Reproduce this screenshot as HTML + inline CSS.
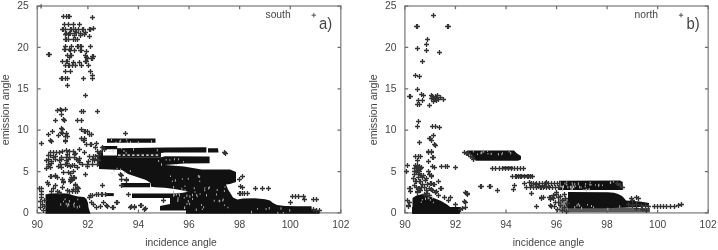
<!DOCTYPE html>
<html><head><meta charset="utf-8"><style>
html,body{margin:0;padding:0;background:#fff;}
svg{display:block;filter:grayscale(1);}
text{font-family:"Liberation Sans",sans-serif;font-size:10.3px;fill:#444;}
</style></head><body>
<svg width="718" height="250" viewBox="0 0 718 250">
<g>
<rect width="718" height="250" fill="#fff"/>
<rect x="37.30" y="6.00" width="303.50" height="206.90" fill="none" stroke="#939393" stroke-width="1.5"/>
<path d="M37.30 212.90v-3.3M37.30 6.00v3.3M87.88 212.90v-3.3M87.88 6.00v3.3M138.47 212.90v-3.3M138.47 6.00v3.3M189.05 212.90v-3.3M189.05 6.00v3.3M239.63 212.90v-3.3M239.63 6.00v3.3M290.22 212.90v-3.3M290.22 6.00v3.3M340.80 212.90v-3.3M340.80 6.00v3.3M37.30 212.90h3.3M340.80 212.90h-3.3M37.30 171.52h3.3M340.80 171.52h-3.3M37.30 130.14h3.3M340.80 130.14h-3.3M37.30 88.76h3.3M340.80 88.76h-3.3M37.30 47.38h3.3M340.80 47.38h-3.3M37.30 6.00h3.3M340.80 6.00h-3.3" stroke="#6e6e6e" stroke-width="1.25" fill="none"/>
<text x="37.30" y="228.3" text-anchor="middle">90</text>
<text x="87.88" y="228.3" text-anchor="middle">92</text>
<text x="138.47" y="228.3" text-anchor="middle">94</text>
<text x="189.05" y="228.3" text-anchor="middle">96</text>
<text x="239.63" y="228.3" text-anchor="middle">98</text>
<text x="290.22" y="228.3" text-anchor="middle">100</text>
<text x="340.80" y="228.3" text-anchor="middle">102</text>
<text x="28.80" y="216.10" text-anchor="end">0</text>
<text x="28.80" y="174.72" text-anchor="end">5</text>
<text x="28.80" y="133.34" text-anchor="end">10</text>
<text x="28.80" y="91.96" text-anchor="end">15</text>
<text x="28.80" y="50.58" text-anchor="end">20</text>
<text x="28.80" y="9.20" text-anchor="end">25</text>
<text x="181.00" y="245.6" text-anchor="middle">incidence angle</text>
<polygon points="117.0,153.0 161.0,153.0 161.0,157.3 117.0,157.3" fill="#1a1a1a"/>
<polygon points="107.0,138.6 155.5,138.6 155.5,142.8 107.0,142.8" fill="#111"/>
<polygon points="101.5,146.0 117.2,146.0 117.2,148.3 165.0,147.5 206.4,147.3 206.4,152.5 165.0,152.5 161.0,153.0 117.0,153.3 117.0,149.2 103.0,149.2 103.0,152.0 101.5,152.0" fill="#111"/>
<polygon points="98.0,152.0 103.0,151.0 103.0,166.0 98.0,166.0" fill="#111"/>
<polygon points="99.0,155.6 117.0,155.6 117.0,157.2 161.0,157.2 165.0,156.3 209.6,156.6 209.6,163.2 184.0,163.6 165.0,165.0 184.0,166.5 201.6,169.6 230.0,169.6 236.0,172.0 236.0,182.0 230.0,184.0 226.0,184.5 228.0,189.5 230.0,192.5 233.0,197.4 237.4,199.6 243.0,198.6 255.0,198.3 265.0,199.2 270.0,200.6 273.0,203.0 277.0,205.0 285.0,206.0 297.0,206.3 311.6,206.3 311.6,209.5 319.5,210.0 319.5,213.8 186.0,213.8 186.0,210.4 160.0,210.4 160.0,206.0 170.0,204.0 170.0,198.0 132.0,198.0 132.0,193.6 176.0,193.4 183.0,192.8 188.0,191.8 183.0,190.4 176.0,189.2 165.0,187.8 155.0,187.3 151.0,186.8 150.5,183.0 146.0,180.0 128.0,174.0 122.0,170.0 110.0,169.5 99.0,169.0" fill="#111"/>
<polygon points="121.0,183.0 150.0,183.0 150.0,187.3 121.0,187.3" fill="#111"/>
<polygon points="208.0,148.2 218.0,148.2 218.5,152.6 208.0,152.6" fill="#111"/>
<polygon points="105.8,193.1 113.8,193.1 113.8,196.1 105.8,196.1" fill="#111"/>
<polygon points="45.5,194.5 50.0,193.5 60.0,193.3 68.0,193.6 72.0,195.0 78.0,196.5 84.0,197.0 86.5,199.0 88.0,203.0 88.6,208.0 90.5,213.8 45.5,213.8" fill="#111"/>
<path d="M119.2 140.4h0.9v2.0h-0.9zM151.0 140.2h0.9v2.5h-0.9zM111.1 139.0h0.9v2.0h-0.9zM120.2 139.6h0.9v2.5h-0.9zM130.1 141.1h0.9v2.0h-0.9zM126.7 141.2h0.9v1.5h-0.9zM137.8 141.2h0.9v2.5h-0.9zM126.3 139.0h0.9v1.5h-0.9zM115.5 141.4h0.9v1.5h-0.9zM64.6 198.2h0.9v2.0h-0.9zM68.4 203.8h0.9v2.0h-0.9zM73.7 205.4h0.9v2.0h-0.9zM74.0 202.6h0.9v1.5h-0.9zM77.3 198.8h0.9v1.5h-0.9zM68.9 200.1h0.9v2.5h-0.9zM67.6 203.0h0.9v2.0h-0.9zM67.3 204.7h0.9v2.5h-0.9zM65.7 202.7h0.9v2.5h-0.9zM63.1 200.7h0.9v1.5h-0.9zM76.8 205.9h0.9v2.5h-0.9zM73.3 203.6h0.9v2.0h-0.9zM79.2 205.2h0.9v2.5h-0.9zM60.3 203.2h0.9v2.5h-0.9zM216.1 193.6h0.9v2.0h-0.9zM178.6 192.2h0.9v2.5h-0.9zM224.5 186.3h0.9v1.5h-0.9zM193.8 187.3h0.9v2.0h-0.9zM194.6 191.2h0.9v1.5h-0.9zM174.3 194.2h0.9v1.5h-0.9zM192.0 193.8h0.9v2.5h-0.9zM218.7 199.7h0.9v2.5h-0.9zM184.5 185.5h0.9v1.5h-0.9zM176.1 194.0h0.9v1.5h-0.9zM222.3 199.6h0.9v2.0h-0.9zM204.4 187.3h0.9v1.5h-0.9zM223.9 190.1h0.9v2.0h-0.9zM222.8 198.4h0.9v2.0h-0.9zM192.0 198.0h0.9v2.0h-0.9zM206.1 193.9h0.9v2.5h-0.9zM177.4 199.6h0.9v2.5h-0.9zM186.4 194.5h0.9v2.5h-0.9zM184.6 189.5h0.9v2.0h-0.9zM199.6 193.2h0.9v1.5h-0.9zM213.8 199.8h0.9v2.0h-0.9zM173.1 194.2h0.9v2.5h-0.9zM179.1 194.5h0.9v2.0h-0.9zM196.7 195.2h0.9v2.0h-0.9zM204.3 189.2h0.9v2.0h-0.9zM173.2 185.9h0.9v2.5h-0.9zM173.1 190.5h0.9v2.5h-0.9zM196.2 193.9h0.9v2.0h-0.9zM181.4 187.8h0.9v2.0h-0.9zM216.7 189.0h0.9v2.0h-0.9zM177.6 197.2h0.9v2.5h-0.9zM208.2 187.0h0.9v2.5h-0.9zM183.8 197.1h0.9v1.5h-0.9zM189.4 195.2h0.9v2.5h-0.9zM209.0 186.5h0.9v2.0h-0.9zM227.5 206.7h0.9v1.5h-0.9zM201.9 208.6h0.9v1.5h-0.9zM184.0 207.4h0.9v1.5h-0.9zM224.2 204.5h0.9v1.5h-0.9zM219.4 200.3h0.9v1.5h-0.9zM195.8 208.4h0.9v2.5h-0.9zM189.2 202.8h0.9v2.5h-0.9zM184.3 206.2h0.9v2.5h-0.9zM186.5 202.9h0.9v2.0h-0.9zM203.2 206.3h0.9v2.0h-0.9zM201.0 204.1h0.9v2.0h-0.9zM187.8 200.0h0.9v2.5h-0.9zM289.3 209.2h0.9v2.5h-0.9zM251.1 210.7h0.9v2.5h-0.9zM277.4 211.8h0.9v2.5h-0.9zM257.1 208.1h0.9v1.5h-0.9zM282.9 211.9h0.9v1.5h-0.9zM280.5 207.2h0.9v2.5h-0.9zM265.6 208.0h0.9v2.0h-0.9zM268.8 207.1h0.9v2.5h-0.9zM113.6 170.0h0.9v1.5h-0.9zM129.9 170.1h0.9v2.0h-0.9zM111.6 172.5h0.9v1.5h-0.9zM120.2 168.5h0.9v2.5h-0.9zM124.3 171.7h0.9v2.0h-0.9zM116.6 167.7h0.9v1.5h-0.9zM171.9 180.5h0.9v1.5h-0.9zM197.9 175.1h0.9v2.5h-0.9zM187.8 177.8h0.9v2.0h-0.9zM174.9 179.3h0.9v2.5h-0.9zM181.9 178.3h0.9v1.5h-0.9zM199.3 180.4h0.9v1.5h-0.9zM170.0 175.5h0.9v1.5h-0.9zM199.2 175.6h0.9v2.5h-0.9zM169.4 159.3h0.9v1.5h-0.9zM161.1 163.2h0.9v2.5h-0.9zM158.2 160.1h0.9v2.0h-0.9zM165.7 159.0h0.9v1.5h-0.9zM183.0 161.0h0.9v1.5h-0.9zM174.0 158.3h0.9v2.0h-0.9zM176.3 164.3h0.9v2.0h-0.9zM178.2 158.3h0.9v2.0h-0.9zM112.7 150.1h0.9v2.5h-0.9zM125.7 151.8h0.9v2.0h-0.9zM133.0 148.2h0.9v2.5h-0.9zM123.5 149.9h0.9v2.0h-0.9zM121.2 147.7h0.9v1.5h-0.9zM156.8 148.9h0.9v2.5h-0.9z" fill="#bbb" stroke="none"/>
<path d="M118 155.2H160" stroke="#fff" stroke-width="1.2" stroke-dasharray="2.5 2.2"/>
<path d="M104 151.5H116" stroke="#eee" stroke-width="1.0" stroke-dasharray="3 1.5"/>
<path d="M61.0 16.5h5.0M63.5 14.0v5.0M64.0 16.5h5.0M66.5 14.0v5.0M66.0 16.5h5.0M68.5 14.0v5.0M67.0 16.5h5.0M69.5 14.0v5.0M90.0 17.5h5.0M92.5 15.0v5.0M62.0 24.5h5.0M64.5 22.0v5.0M66.0 24.5h5.0M68.5 22.0v5.0M71.0 24.5h5.0M73.5 22.0v5.0M77.0 24.5h5.0M79.5 22.0v5.0M60.0 29.5h5.0M62.5 27.0v5.0M61.0 29.5h5.0M63.5 27.0v5.0M63.0 29.5h5.0M65.5 27.0v5.0M68.0 29.5h5.0M70.5 27.0v5.0M69.0 29.5h5.0M71.5 27.0v5.0M71.0 29.5h5.0M73.5 27.0v5.0M73.0 29.5h5.0M75.5 27.0v5.0M76.0 29.5h5.0M78.5 27.0v5.0M80.0 29.5h5.0M82.5 27.0v5.0M81.0 29.5h5.0M83.5 27.0v5.0M87.0 29.5h5.0M89.5 27.0v5.0M88.0 29.5h5.0M90.5 27.0v5.0M91.0 28.5h5.0M93.5 26.0v5.0M64.0 33.5h5.0M66.5 31.0v5.0M67.0 33.5h5.0M69.5 31.0v5.0M68.0 33.5h5.0M70.5 31.0v5.0M72.0 33.5h5.0M74.5 31.0v5.0M74.0 32.5h5.0M76.5 30.0v5.0M78.0 33.5h5.0M80.5 31.0v5.0M83.0 32.5h5.0M85.5 30.0v5.0M87.0 36.5h5.0M89.5 34.0v5.0M63.0 34.5h5.0M65.5 32.0v5.0M66.0 34.5h5.0M68.5 32.0v5.0M72.0 35.5h5.0M74.5 33.0v5.0M78.0 35.5h5.0M80.5 33.0v5.0M82.0 34.5h5.0M84.5 32.0v5.0M63.0 39.5h5.0M65.5 37.0v5.0M64.0 39.5h5.0M66.5 37.0v5.0M66.0 39.5h5.0M68.5 37.0v5.0M71.0 39.5h5.0M73.5 37.0v5.0M73.0 39.5h5.0M75.5 37.0v5.0M75.0 39.5h5.0M77.5 37.0v5.0M63.0 46.5h5.0M65.5 44.0v5.0M69.0 46.5h5.0M71.5 44.0v5.0M75.0 46.5h5.0M77.5 44.0v5.0M76.0 46.5h5.0M78.5 44.0v5.0M78.0 46.5h5.0M80.5 44.0v5.0M79.0 46.5h5.0M81.5 44.0v5.0M88.0 46.5h5.0M90.5 44.0v5.0M63.0 49.5h5.0M65.5 47.0v5.0M62.0 49.5h5.0M64.5 47.0v5.0M67.0 49.5h5.0M69.5 47.0v5.0M68.0 50.5h5.0M70.5 48.0v5.0M72.0 50.5h5.0M74.5 48.0v5.0M79.0 50.5h5.0M81.5 48.0v5.0M78.0 50.5h5.0M80.5 48.0v5.0M84.0 51.5h5.0M86.5 49.0v5.0M84.0 51.5h5.0M86.5 49.0v5.0M46.0 54.5h5.0M48.5 52.0v5.0M47.0 54.5h5.0M49.5 52.0v5.0M65.0 55.5h5.0M67.5 53.0v5.0M65.0 55.5h5.0M67.5 53.0v5.0M68.0 55.5h5.0M70.5 53.0v5.0M69.0 55.5h5.0M71.5 53.0v5.0M83.0 55.5h5.0M85.5 53.0v5.0M83.0 55.5h5.0M85.5 53.0v5.0M90.0 56.5h5.0M92.5 54.0v5.0M91.0 56.5h5.0M93.5 54.0v5.0M67.0 57.5h5.0M69.5 55.0v5.0M84.0 57.5h5.0M86.5 55.0v5.0M85.0 58.5h5.0M87.5 56.0v5.0M89.0 58.5h5.0M91.5 56.0v5.0M90.0 58.5h5.0M92.5 56.0v5.0M60.0 61.5h5.0M62.5 59.0v5.0M60.0 61.5h5.0M62.5 59.0v5.0M64.0 61.5h5.0M66.5 59.0v5.0M65.0 61.5h5.0M67.5 59.0v5.0M83.0 61.5h5.0M85.5 59.0v5.0M83.0 61.5h5.0M85.5 59.0v5.0M84.0 61.5h5.0M86.5 59.0v5.0M71.0 62.5h5.0M73.5 60.0v5.0M77.0 62.5h5.0M79.5 60.0v5.0M63.0 65.5h5.0M65.5 63.0v5.0M63.0 65.5h5.0M65.5 63.0v5.0M66.0 65.5h5.0M68.5 63.0v5.0M67.0 65.5h5.0M69.5 63.0v5.0M70.0 65.5h5.0M72.5 63.0v5.0M73.0 65.5h5.0M75.5 63.0v5.0M79.0 65.5h5.0M81.5 63.0v5.0M86.0 65.5h5.0M88.5 63.0v5.0M63.0 71.5h5.0M65.5 69.0v5.0M68.0 71.5h5.0M70.5 69.0v5.0M88.0 71.5h5.0M90.5 69.0v5.0M90.0 75.5h5.0M92.5 73.0v5.0M59.0 78.5h5.0M61.5 76.0v5.0M60.0 78.5h5.0M62.5 76.0v5.0M63.0 78.5h5.0M65.5 76.0v5.0M65.0 78.5h5.0M67.5 76.0v5.0M81.0 78.5h5.0M83.5 76.0v5.0M90.0 78.5h5.0M92.5 76.0v5.0M65.0 85.5h5.0M67.5 83.0v5.0M83.0 95.5h5.0M85.5 93.0v5.0M55.0 110.5h5.0M57.5 108.0v5.0M58.0 109.5h5.0M60.5 107.0v5.0M59.0 110.5h5.0M61.5 108.0v5.0M63.0 109.5h5.0M65.5 107.0v5.0M79.0 111.5h5.0M81.5 109.0v5.0M81.0 111.5h5.0M83.5 109.0v5.0M95.0 111.5h5.0M97.5 109.0v5.0M59.0 114.5h5.0M61.5 112.0v5.0M53.0 120.5h5.0M55.5 118.0v5.0M61.0 119.5h5.0M63.5 117.0v5.0M62.0 120.5h5.0M64.5 118.0v5.0M75.0 120.5h5.0M77.5 118.0v5.0M79.0 120.5h5.0M81.5 118.0v5.0M59.0 128.5h5.0M61.5 126.0v5.0M60.0 129.5h5.0M62.5 127.0v5.0M79.0 129.5h5.0M81.5 127.0v5.0M82.0 131.5h5.0M84.5 129.0v5.0M83.0 131.5h5.0M85.5 129.0v5.0M85.0 131.5h5.0M87.5 129.0v5.0M50.0 131.5h5.0M52.5 129.0v5.0M46.0 134.5h5.0M48.5 132.0v5.0M56.0 135.5h5.0M58.5 133.0v5.0M59.0 132.5h5.0M61.5 130.0v5.0M60.0 133.5h5.0M62.5 131.0v5.0M64.0 133.5h5.0M66.5 131.0v5.0M63.0 136.5h5.0M65.5 134.0v5.0M63.0 136.5h5.0M65.5 134.0v5.0M65.0 136.5h5.0M67.5 134.0v5.0M87.0 134.5h5.0M89.5 132.0v5.0M89.0 134.5h5.0M91.5 132.0v5.0M123.0 133.5h5.0M125.5 131.0v5.0M48.0 140.5h5.0M50.5 138.0v5.0M63.0 140.5h5.0M65.5 138.0v5.0M79.0 138.5h5.0M81.5 136.0v5.0M82.0 138.5h5.0M84.5 136.0v5.0M39.0 143.5h5.0M41.5 141.0v5.0M49.0 141.5h5.0M51.5 139.0v5.0M63.0 141.5h5.0M65.5 139.0v5.0M48.0 152.5h5.0M50.5 150.0v5.0M51.0 152.5h5.0M53.5 150.0v5.0M54.0 152.5h5.0M56.5 150.0v5.0M57.0 152.5h5.0M59.5 150.0v5.0M60.0 151.5h5.0M62.5 149.0v5.0M64.0 150.5h5.0M66.5 148.0v5.0M64.0 150.5h5.0M66.5 148.0v5.0M67.0 151.5h5.0M69.5 149.0v5.0M65.0 154.5h5.0M67.5 152.0v5.0M65.0 154.5h5.0M67.5 152.0v5.0M46.0 155.5h5.0M48.5 153.0v5.0M48.0 155.5h5.0M50.5 153.0v5.0M51.0 157.5h5.0M53.5 155.0v5.0M53.0 156.5h5.0M55.5 154.0v5.0M59.0 157.5h5.0M61.5 155.0v5.0M64.0 157.5h5.0M66.5 155.0v5.0M67.0 157.5h5.0M69.5 155.0v5.0M44.0 160.5h5.0M46.5 158.0v5.0M46.0 159.5h5.0M48.5 157.0v5.0M49.0 161.5h5.0M51.5 159.0v5.0M53.0 159.5h5.0M55.5 157.0v5.0M57.0 160.5h5.0M59.5 158.0v5.0M59.0 159.5h5.0M61.5 157.0v5.0M64.0 160.5h5.0M66.5 158.0v5.0M64.0 160.5h5.0M66.5 158.0v5.0M66.0 159.5h5.0M68.5 157.0v5.0M46.0 164.5h5.0M48.5 162.0v5.0M49.0 163.5h5.0M51.5 161.0v5.0M58.0 164.5h5.0M60.5 162.0v5.0M63.0 164.5h5.0M65.5 162.0v5.0M65.0 163.5h5.0M67.5 161.0v5.0M81.0 140.5h5.0M83.5 138.0v5.0M82.0 140.5h5.0M84.5 138.0v5.0M84.0 144.5h5.0M86.5 142.0v5.0M88.0 144.5h5.0M90.5 142.0v5.0M89.0 144.5h5.0M91.5 142.0v5.0M94.0 143.5h5.0M96.5 141.0v5.0M77.0 149.5h5.0M79.5 147.0v5.0M77.0 149.5h5.0M79.5 147.0v5.0M93.0 147.5h5.0M95.5 145.0v5.0M100.0 147.5h5.0M102.5 145.0v5.0M102.0 149.5h5.0M104.5 147.0v5.0M71.0 151.5h5.0M73.5 149.0v5.0M73.0 153.5h5.0M75.5 151.0v5.0M72.0 154.5h5.0M74.5 152.0v5.0M82.0 152.5h5.0M84.5 150.0v5.0M95.0 151.5h5.0M97.5 149.0v5.0M98.0 152.5h5.0M100.5 150.0v5.0M72.0 157.5h5.0M74.5 155.0v5.0M74.0 159.5h5.0M76.5 157.0v5.0M76.0 160.5h5.0M78.5 158.0v5.0M77.0 158.5h5.0M79.5 156.0v5.0M77.0 162.5h5.0M79.5 160.0v5.0M74.0 159.5h5.0M76.5 157.0v5.0M87.0 156.5h5.0M89.5 154.0v5.0M91.0 156.5h5.0M93.5 154.0v5.0M93.0 156.5h5.0M95.5 154.0v5.0M93.0 156.5h5.0M95.5 154.0v5.0M96.0 155.5h5.0M98.5 153.0v5.0M96.0 155.5h5.0M98.5 153.0v5.0M86.0 161.5h5.0M88.5 159.0v5.0M90.0 159.5h5.0M92.5 157.0v5.0M92.0 160.5h5.0M94.5 158.0v5.0M95.0 159.5h5.0M97.5 157.0v5.0M96.0 160.5h5.0M98.5 158.0v5.0M80.0 164.5h5.0M82.5 162.0v5.0M85.0 164.5h5.0M87.5 162.0v5.0M90.0 164.5h5.0M92.5 162.0v5.0M95.0 164.5h5.0M97.5 162.0v5.0M46.0 166.5h5.0M48.5 164.0v5.0M46.0 166.5h5.0M48.5 164.0v5.0M48.0 167.5h5.0M50.5 165.0v5.0M44.0 168.5h5.0M46.5 166.0v5.0M56.0 166.5h5.0M58.5 164.0v5.0M56.0 166.5h5.0M58.5 164.0v5.0M59.0 167.5h5.0M61.5 165.0v5.0M65.0 165.5h5.0M67.5 163.0v5.0M68.0 166.5h5.0M70.5 164.0v5.0M61.0 172.5h5.0M63.5 170.0v5.0M66.0 172.5h5.0M68.5 170.0v5.0M66.0 172.5h5.0M68.5 170.0v5.0M68.0 173.5h5.0M70.5 171.0v5.0M49.0 176.5h5.0M51.5 174.0v5.0M53.0 175.5h5.0M55.5 173.0v5.0M55.0 177.5h5.0M57.5 175.0v5.0M60.0 179.5h5.0M62.5 177.0v5.0M61.0 181.5h5.0M63.5 179.0v5.0M68.0 179.5h5.0M70.5 177.0v5.0M68.0 181.5h5.0M70.5 179.0v5.0M37.0 188.5h5.0M39.5 186.0v5.0M70.0 165.5h5.0M72.5 163.0v5.0M72.0 165.5h5.0M74.5 163.0v5.0M75.0 167.5h5.0M77.5 165.0v5.0M85.0 166.5h5.0M87.5 164.0v5.0M71.0 171.5h5.0M73.5 169.0v5.0M83.0 174.5h5.0M85.5 172.0v5.0M71.0 177.5h5.0M73.5 175.0v5.0M72.0 178.5h5.0M74.5 176.0v5.0M100.0 185.5h5.0M102.5 183.0v5.0M73.0 185.5h5.0M75.5 183.0v5.0M75.0 187.5h5.0M77.5 185.0v5.0M39.0 188.5h5.0M41.5 186.0v5.0M39.0 191.5h5.0M41.5 189.0v5.0M39.0 191.5h5.0M41.5 189.0v5.0M39.0 194.5h5.0M41.5 192.0v5.0M39.0 197.5h5.0M41.5 195.0v5.0M39.0 197.5h5.0M41.5 195.0v5.0M38.0 201.5h5.0M40.5 199.0v5.0M40.0 204.5h5.0M42.5 202.0v5.0M38.0 207.5h5.0M40.5 205.0v5.0M42.0 200.5h5.0M44.5 198.0v5.0M42.0 206.5h5.0M44.5 204.0v5.0M41.0 210.5h5.0M43.5 208.0v5.0M48.0 176.5h5.0M50.5 174.0v5.0M53.0 176.5h5.0M55.5 174.0v5.0M60.0 179.5h5.0M62.5 177.0v5.0M61.0 182.5h5.0M63.5 180.0v5.0M69.0 177.5h5.0M71.5 175.0v5.0M69.0 180.5h5.0M71.5 178.0v5.0M69.0 180.5h5.0M71.5 178.0v5.0M72.0 177.5h5.0M74.5 175.0v5.0M45.0 182.5h5.0M47.5 180.0v5.0M46.0 184.5h5.0M48.5 182.0v5.0M46.0 184.5h5.0M48.5 182.0v5.0M53.0 185.5h5.0M55.5 183.0v5.0M51.0 188.5h5.0M53.5 186.0v5.0M60.0 187.5h5.0M62.5 185.0v5.0M73.0 184.5h5.0M75.5 182.0v5.0M75.0 187.5h5.0M77.5 185.0v5.0M73.0 189.5h5.0M75.5 187.0v5.0M65.0 190.5h5.0M67.5 188.0v5.0M67.0 191.5h5.0M69.5 189.0v5.0M49.0 191.5h5.0M51.5 189.0v5.0M55.0 191.5h5.0M57.5 189.0v5.0M57.0 192.5h5.0M59.5 190.0v5.0M70.0 191.5h5.0M72.5 189.0v5.0M75.0 191.5h5.0M77.5 189.0v5.0M88.0 195.5h5.0M90.5 193.0v5.0M88.0 195.5h5.0M90.5 193.0v5.0M76.0 188.5h5.0M78.5 186.0v5.0M71.0 189.5h5.0M73.5 187.0v5.0M73.0 191.5h5.0M75.5 189.0v5.0M73.0 191.5h5.0M75.5 189.0v5.0M87.0 197.5h5.0M89.5 195.0v5.0M90.0 195.5h5.0M92.5 193.0v5.0M90.0 195.5h5.0M92.5 193.0v5.0M94.0 194.5h5.0M96.5 192.0v5.0M96.0 194.5h5.0M98.5 192.0v5.0M99.0 194.5h5.0M101.5 192.0v5.0M100.0 194.5h5.0M102.5 192.0v5.0M103.0 194.5h5.0M105.5 192.0v5.0M101.0 202.5h5.0M103.5 200.0v5.0M89.0 202.5h5.0M91.5 200.0v5.0M91.0 204.5h5.0M93.5 202.0v5.0M94.0 207.5h5.0M96.5 205.0v5.0M98.0 206.5h5.0M100.5 204.0v5.0M104.0 205.5h5.0M106.5 203.0v5.0M83.0 174.5h5.0M85.5 172.0v5.0M119.0 175.5h5.0M121.5 173.0v5.0M119.0 179.5h5.0M121.5 177.0v5.0M124.0 180.5h5.0M126.5 178.0v5.0M118.0 174.5h5.0M120.5 172.0v5.0M124.0 179.5h5.0M126.5 177.0v5.0M119.0 185.5h5.0M121.5 183.0v5.0M126.0 194.5h5.0M128.5 192.0v5.0M126.0 194.5h5.0M128.5 192.0v5.0M115.0 202.5h5.0M117.5 200.0v5.0M111.0 207.5h5.0M113.5 205.0v5.0M128.0 207.5h5.0M130.5 205.0v5.0M132.0 207.5h5.0M134.5 205.0v5.0M139.0 205.5h5.0M141.5 203.0v5.0M143.0 208.5h5.0M145.5 206.0v5.0M138.0 205.5h5.0M140.5 203.0v5.0M142.0 209.5h5.0M144.5 207.0v5.0M101.0 202.5h5.0M103.5 200.0v5.0M114.0 202.5h5.0M116.5 200.0v5.0M105.0 206.5h5.0M107.5 204.0v5.0M110.0 207.5h5.0M112.5 205.0v5.0M129.0 206.5h5.0M131.5 204.0v5.0M132.0 206.5h5.0M134.5 204.0v5.0M161.0 200.5h5.0M163.5 198.0v5.0M223.0 153.5h5.0M225.5 151.0v5.0M222.0 152.5h5.0M224.5 150.0v5.0M238.0 186.5h5.0M240.5 184.0v5.0M238.0 193.5h5.0M240.5 191.0v5.0M237.0 179.5h5.0M239.5 177.0v5.0M240.0 176.5h5.0M242.5 174.0v5.0M240.0 187.5h5.0M242.5 185.0v5.0M253.0 188.5h5.0M255.5 186.0v5.0M260.0 188.5h5.0M262.5 186.0v5.0M266.0 188.5h5.0M268.5 186.0v5.0M237.0 193.5h5.0M239.5 191.0v5.0M240.0 193.5h5.0M242.5 191.0v5.0M242.0 193.5h5.0M244.5 191.0v5.0M245.0 193.5h5.0M247.5 191.0v5.0M290.0 196.5h5.0M292.5 194.0v5.0M293.0 196.5h5.0M295.5 194.0v5.0M296.0 196.5h5.0M298.5 194.0v5.0M301.0 196.5h5.0M303.5 194.0v5.0M302.0 199.5h5.0M304.5 197.0v5.0M311.0 199.5h5.0M313.5 197.0v5.0M314.0 199.5h5.0M316.5 197.0v5.0M288.0 202.5h5.0M290.5 200.0v5.0M311.0 209.5h5.0M313.5 207.0v5.0M314.0 210.5h5.0M316.5 208.0v5.0M317.0 210.5h5.0M319.5 208.0v5.0" stroke="#333" stroke-width="1.3" fill="none"/>
<rect x="404.90" y="6.00" width="303.30" height="206.90" fill="none" stroke="#939393" stroke-width="1.5"/>
<path d="M404.90 212.90v-3.3M404.90 6.00v3.3M455.45 212.90v-3.3M455.45 6.00v3.3M506.00 212.90v-3.3M506.00 6.00v3.3M556.55 212.90v-3.3M556.55 6.00v3.3M607.10 212.90v-3.3M607.10 6.00v3.3M657.65 212.90v-3.3M657.65 6.00v3.3M708.20 212.90v-3.3M708.20 6.00v3.3M404.90 212.90h3.3M708.20 212.90h-3.3M404.90 171.52h3.3M708.20 171.52h-3.3M404.90 130.14h3.3M708.20 130.14h-3.3M404.90 88.76h3.3M708.20 88.76h-3.3M404.90 47.38h3.3M708.20 47.38h-3.3M404.90 6.00h3.3M708.20 6.00h-3.3" stroke="#6e6e6e" stroke-width="1.25" fill="none"/>
<text x="404.90" y="228.3" text-anchor="middle">90</text>
<text x="455.45" y="228.3" text-anchor="middle">92</text>
<text x="506.00" y="228.3" text-anchor="middle">94</text>
<text x="556.55" y="228.3" text-anchor="middle">96</text>
<text x="607.10" y="228.3" text-anchor="middle">98</text>
<text x="657.65" y="228.3" text-anchor="middle">100</text>
<text x="708.20" y="228.3" text-anchor="middle">102</text>
<text x="396.40" y="216.10" text-anchor="end">0</text>
<text x="396.40" y="174.72" text-anchor="end">5</text>
<text x="396.40" y="133.34" text-anchor="end">10</text>
<text x="396.40" y="91.96" text-anchor="end">15</text>
<text x="396.40" y="50.58" text-anchor="end">20</text>
<text x="396.40" y="9.20" text-anchor="end">25</text>
<text x="548.50" y="245.6" text-anchor="middle">incidence angle</text>
<polygon points="566.0,208.0 650.0,208.0 650.0,212.3 566.0,212.3" fill="#5a5a5a"/>
<polygon points="559.0,199.0 568.0,199.0 568.0,212.0 559.0,212.0" fill="#888"/>
<polygon points="412.0,207.0 460.0,207.0 460.0,213.8 412.0,213.8" fill="#111"/>
<polygon points="412.5,198.0 416.4,195.5 422.6,194.0 428.8,196.0 435.0,198.6 441.2,201.0 447.4,204.8 453.6,209.8 458.5,212.3 459.0,213.8 412.5,213.8" fill="#111"/>
<polygon points="467.0,150.4 514.0,150.4 517.0,153.5 521.0,156.0 521.0,159.5 518.0,160.8 476.0,160.8 473.0,158.0 471.0,154.5 466.0,154.0" fill="#111"/>
<polygon points="503.0,166.6 513.0,166.6 513.0,169.4 503.0,169.4" fill="#111"/>
<polygon points="516.0,174.8 532.0,174.8 532.0,177.6 516.0,177.6" fill="#111"/>
<polygon points="559.0,180.8 620.0,180.6 622.7,182.0 622.7,190.0 559.0,190.0" fill="#111"/>
<polygon points="568.0,192.0 608.0,192.3 614.0,192.8 618.0,194.0 622.0,196.0 624.0,198.0 626.0,200.5 640.0,201.5 649.0,203.0 649.0,206.5 624.0,207.8 600.0,208.2 568.0,208.2 566.0,205.0 568.0,200.0" fill="#111"/>
<path d="M480.5 152.2h0.9v2.0h-0.9zM510.3 152.0h0.9v2.5h-0.9zM472.9 150.6h0.9v2.0h-0.9zM481.4 151.3h0.9v2.5h-0.9zM490.7 153.0h0.9v2.0h-0.9zM487.5 153.1h0.9v1.5h-0.9zM497.9 153.1h0.9v2.5h-0.9zM487.2 150.6h0.9v1.5h-0.9zM477.0 153.4h0.9v1.5h-0.9zM483.3 150.7h0.9v2.0h-0.9zM490.8 152.7h0.9v2.0h-0.9zM501.4 153.3h0.9v2.0h-0.9zM502.0 152.3h0.9v1.5h-0.9zM508.7 150.9h0.9v1.5h-0.9zM574.3 183.1h0.9v2.5h-0.9zM572.5 186.0h0.9v2.0h-0.9zM572.1 187.7h0.9v2.5h-0.9zM569.9 185.7h0.9v2.5h-0.9zM566.2 183.7h0.9v1.5h-0.9zM585.5 188.9h0.9v2.5h-0.9zM580.6 186.6h0.9v2.0h-0.9zM588.9 188.2h0.9v2.5h-0.9zM562.2 186.2h0.9v2.5h-0.9zM584.8 185.6h0.9v2.0h-0.9zM562.9 184.9h0.9v2.5h-0.9zM589.7 181.7h0.9v1.5h-0.9zM571.7 182.2h0.9v2.0h-0.9zM572.2 184.3h0.9v1.5h-0.9zM560.4 185.9h0.9v1.5h-0.9zM570.7 185.7h0.9v2.5h-0.9zM586.3 188.8h0.9v2.5h-0.9zM566.3 181.3h0.9v1.5h-0.9zM561.4 185.8h0.9v1.5h-0.9zM588.4 188.8h0.9v2.0h-0.9zM577.9 182.2h0.9v1.5h-0.9zM589.4 183.7h0.9v2.0h-0.9zM588.7 188.2h0.9v2.0h-0.9zM570.7 188.0h0.9v2.0h-0.9zM579.0 185.8h0.9v2.5h-0.9zM562.2 188.8h0.9v2.5h-0.9zM567.4 186.1h0.9v2.5h-0.9zM566.4 183.4h0.9v2.0h-0.9zM575.2 185.4h0.9v1.5h-0.9zM583.4 188.9h0.9v2.0h-0.9zM559.6 185.9h0.9v2.5h-0.9zM563.1 186.1h0.9v2.0h-0.9zM573.5 186.4h0.9v2.0h-0.9zM577.9 183.2h0.9v2.0h-0.9zM559.7 181.5h0.9v2.5h-0.9zM559.7 184.0h0.9v2.5h-0.9zM573.1 185.7h0.9v2.0h-0.9zM564.5 182.5h0.9v2.0h-0.9zM585.2 183.1h0.9v2.0h-0.9zM562.3 187.5h0.9v2.5h-0.9zM609.9 181.5h0.9v2.5h-0.9zM595.1 184.2h0.9v1.5h-0.9zM598.5 183.7h0.9v2.5h-0.9zM610.3 181.4h0.9v2.0h-0.9zM618.4 183.7h0.9v1.5h-0.9zM602.0 184.4h0.9v1.5h-0.9zM590.6 184.0h0.9v1.5h-0.9zM616.3 182.8h0.9v1.5h-0.9zM613.2 181.1h0.9v1.5h-0.9zM598.1 184.3h0.9v2.5h-0.9zM579.2 204.4h0.9v2.5h-0.9zM574.3 206.1h0.9v2.5h-0.9zM576.5 204.5h0.9v2.0h-0.9zM593.2 206.2h0.9v2.0h-0.9zM591.0 205.0h0.9v2.0h-0.9zM577.8 203.0h0.9v2.5h-0.9zM619.3 205.2h0.9v2.5h-0.9zM581.1 206.7h0.9v2.5h-0.9zM607.4 207.8h0.9v2.5h-0.9zM587.1 204.1h0.9v1.5h-0.9zM432.9 201.8h0.9v1.5h-0.9zM432.2 196.3h0.9v2.5h-0.9zM427.7 197.2h0.9v2.0h-0.9zM428.7 196.1h0.9v2.5h-0.9zM421.8 199.0h0.9v1.5h-0.9zM429.9 199.1h0.9v2.0h-0.9zM420.8 201.5h0.9v1.5h-0.9zM425.1 197.5h0.9v2.5h-0.9z" fill="#bbb" stroke="none"/>
<path d="M431.0 15.5h5.0M433.5 13.0v5.0M414.0 26.5h5.0M416.5 24.0v5.0M415.0 26.5h5.0M417.5 24.0v5.0M445.0 26.5h5.0M447.5 24.0v5.0M446.0 26.5h5.0M448.5 24.0v5.0M425.0 39.5h5.0M427.5 37.0v5.0M425.0 39.5h5.0M427.5 37.0v5.0M424.0 44.5h5.0M426.5 42.0v5.0M424.0 50.5h5.0M426.5 48.0v5.0M424.0 50.5h5.0M426.5 48.0v5.0M415.0 48.5h5.0M417.5 46.0v5.0M437.0 52.5h5.0M439.5 50.0v5.0M420.0 61.5h5.0M422.5 59.0v5.0M413.0 75.5h5.0M415.5 73.0v5.0M417.0 76.5h5.0M419.5 74.0v5.0M415.0 89.5h5.0M417.5 87.0v5.0M407.0 96.5h5.0M409.5 94.0v5.0M408.0 96.5h5.0M410.5 94.0v5.0M419.0 94.5h5.0M421.5 92.0v5.0M421.0 95.5h5.0M423.5 93.0v5.0M416.0 100.5h5.0M418.5 98.0v5.0M420.0 100.5h5.0M422.5 98.0v5.0M415.0 104.5h5.0M417.5 102.0v5.0M417.0 104.5h5.0M419.5 102.0v5.0M429.0 95.5h5.0M431.5 93.0v5.0M430.0 96.5h5.0M432.5 94.0v5.0M432.0 98.5h5.0M434.5 96.0v5.0M433.0 96.5h5.0M435.5 94.0v5.0M434.0 98.5h5.0M436.5 96.0v5.0M435.0 95.5h5.0M437.5 93.0v5.0M431.0 99.5h5.0M433.5 97.0v5.0M436.0 99.5h5.0M438.5 97.0v5.0M429.0 98.5h5.0M431.5 96.0v5.0M434.0 100.5h5.0M436.5 98.0v5.0M431.0 101.5h5.0M433.5 99.0v5.0M438.0 97.5h5.0M440.5 95.0v5.0M441.0 99.5h5.0M443.5 97.0v5.0M427.0 105.5h5.0M429.5 103.0v5.0M416.0 121.5h5.0M418.5 119.0v5.0M415.0 126.5h5.0M417.5 124.0v5.0M430.0 126.5h5.0M432.5 124.0v5.0M430.0 126.5h5.0M432.5 124.0v5.0M433.0 126.5h5.0M435.5 124.0v5.0M437.0 127.5h5.0M439.5 125.0v5.0M431.0 135.5h5.0M433.5 133.0v5.0M428.0 138.5h5.0M430.5 136.0v5.0M431.0 135.5h5.0M433.5 133.0v5.0M431.0 135.5h5.0M433.5 133.0v5.0M427.0 138.5h5.0M429.5 136.0v5.0M429.0 140.5h5.0M431.5 138.0v5.0M432.0 144.5h5.0M434.5 142.0v5.0M432.0 144.5h5.0M434.5 142.0v5.0M433.0 145.5h5.0M435.5 143.0v5.0M417.0 142.5h5.0M419.5 140.0v5.0M426.0 152.5h5.0M428.5 150.0v5.0M429.0 152.5h5.0M431.5 150.0v5.0M431.0 157.5h5.0M433.5 155.0v5.0M426.0 151.5h5.0M428.5 149.0v5.0M429.0 151.5h5.0M431.5 149.0v5.0M413.0 156.5h5.0M415.5 154.0v5.0M416.0 156.5h5.0M418.5 154.0v5.0M418.0 156.5h5.0M420.5 154.0v5.0M430.0 157.5h5.0M432.5 155.0v5.0M415.0 160.5h5.0M417.5 158.0v5.0M426.0 161.5h5.0M428.5 159.0v5.0M405.0 165.5h5.0M407.5 163.0v5.0M413.0 165.5h5.0M415.5 163.0v5.0M415.0 165.5h5.0M417.5 163.0v5.0M417.0 166.5h5.0M419.5 164.0v5.0M419.0 167.5h5.0M421.5 165.0v5.0M412.0 168.5h5.0M414.5 166.0v5.0M414.0 168.5h5.0M416.5 166.0v5.0M416.0 169.5h5.0M418.5 167.0v5.0M418.0 168.5h5.0M420.5 166.0v5.0M412.0 171.5h5.0M414.5 169.0v5.0M415.0 170.5h5.0M417.5 168.0v5.0M417.0 171.5h5.0M419.5 169.0v5.0M414.0 172.5h5.0M416.5 170.0v5.0M416.0 174.5h5.0M418.5 172.0v5.0M419.0 175.5h5.0M421.5 173.0v5.0M421.0 175.5h5.0M423.5 173.0v5.0M420.0 177.5h5.0M422.5 175.0v5.0M416.0 177.5h5.0M418.5 175.0v5.0M412.0 174.5h5.0M414.5 172.0v5.0M430.0 166.5h5.0M432.5 164.0v5.0M439.0 166.5h5.0M441.5 164.0v5.0M426.0 171.5h5.0M428.5 169.0v5.0M427.0 174.5h5.0M429.5 172.0v5.0M429.0 175.5h5.0M431.5 173.0v5.0M439.0 166.5h5.0M441.5 164.0v5.0M443.0 166.5h5.0M445.5 164.0v5.0M445.0 166.5h5.0M447.5 164.0v5.0M453.0 167.5h5.0M455.5 165.0v5.0M432.0 167.5h5.0M434.5 165.0v5.0M465.0 153.5h5.0M467.5 151.0v5.0M471.0 159.5h5.0M473.5 157.0v5.0M464.0 153.5h5.0M466.5 151.0v5.0M418.0 175.5h5.0M420.5 173.0v5.0M424.0 178.5h5.0M426.5 176.0v5.0M429.0 176.5h5.0M431.5 174.0v5.0M414.0 181.5h5.0M416.5 179.0v5.0M417.0 181.5h5.0M419.5 179.0v5.0M420.0 184.5h5.0M422.5 182.0v5.0M414.0 187.5h5.0M416.5 185.0v5.0M416.0 188.5h5.0M418.5 186.0v5.0M418.0 190.5h5.0M420.5 188.0v5.0M415.0 191.5h5.0M417.5 189.0v5.0M428.0 183.5h5.0M430.5 181.0v5.0M432.0 184.5h5.0M434.5 182.0v5.0M427.0 188.5h5.0M429.5 186.0v5.0M430.0 190.5h5.0M432.5 188.0v5.0M436.0 181.5h5.0M438.5 179.0v5.0M438.0 188.5h5.0M440.5 186.0v5.0M407.0 188.5h5.0M409.5 186.0v5.0M434.0 191.5h5.0M436.5 189.0v5.0M405.0 200.5h5.0M407.5 198.0v5.0M411.0 178.5h5.0M413.5 176.0v5.0M423.0 180.5h5.0M425.5 178.0v5.0M422.0 187.5h5.0M424.5 185.0v5.0M424.0 190.5h5.0M426.5 188.0v5.0M412.0 185.5h5.0M414.5 183.0v5.0M425.0 184.5h5.0M427.5 182.0v5.0M407.0 202.5h5.0M409.5 200.0v5.0M406.0 205.5h5.0M408.5 203.0v5.0M406.0 206.5h5.0M408.5 204.0v5.0M408.0 191.5h5.0M410.5 189.0v5.0M404.0 171.5h5.0M406.5 169.0v5.0M438.0 188.5h5.0M440.5 186.0v5.0M433.0 192.5h5.0M435.5 190.0v5.0M464.0 193.5h5.0M466.5 191.0v5.0M465.0 194.5h5.0M467.5 192.0v5.0M448.0 197.5h5.0M450.5 195.0v5.0M446.0 200.5h5.0M448.5 198.0v5.0M462.0 201.5h5.0M464.5 199.0v5.0M453.0 204.5h5.0M455.5 202.0v5.0M460.0 208.5h5.0M462.5 206.0v5.0M460.0 208.5h5.0M462.5 206.0v5.0M458.0 209.5h5.0M460.5 207.0v5.0M478.0 186.5h5.0M480.5 184.0v5.0M487.0 186.5h5.0M489.5 184.0v5.0M495.0 190.5h5.0M497.5 188.0v5.0M479.0 186.5h5.0M481.5 184.0v5.0M488.0 186.5h5.0M490.5 184.0v5.0M495.0 190.5h5.0M497.5 188.0v5.0M512.0 185.5h5.0M514.5 183.0v5.0M511.0 189.5h5.0M513.5 187.0v5.0M522.0 183.5h5.0M524.5 181.0v5.0M524.0 187.5h5.0M526.5 185.0v5.0M527.0 182.5h5.0M529.5 180.0v5.0M529.0 185.5h5.0M531.5 183.0v5.0M531.0 187.5h5.0M533.5 185.0v5.0M533.0 184.5h5.0M535.5 182.0v5.0M536.0 186.5h5.0M538.5 184.0v5.0M539.0 187.5h5.0M541.5 185.0v5.0M544.0 182.5h5.0M546.5 180.0v5.0M546.0 186.5h5.0M548.5 184.0v5.0M550.0 187.5h5.0M552.5 185.0v5.0M542.0 186.5h5.0M544.5 184.0v5.0M529.0 193.5h5.0M531.5 191.0v5.0M539.0 198.5h5.0M541.5 196.0v5.0M548.0 197.5h5.0M550.5 195.0v5.0M548.0 199.5h5.0M550.5 197.0v5.0M551.0 198.5h5.0M553.5 196.0v5.0M534.0 206.5h5.0M536.5 204.0v5.0M549.0 206.5h5.0M551.5 204.0v5.0M463.0 192.5h5.0M465.5 190.0v5.0M465.0 193.5h5.0M467.5 191.0v5.0M463.0 202.5h5.0M465.5 200.0v5.0M463.0 207.5h5.0M465.5 205.0v5.0M490.0 168.5h5.0M492.5 166.0v5.0M493.0 168.5h5.0M495.5 166.0v5.0M497.0 168.5h5.0M499.5 166.0v5.0M500.0 168.5h5.0M502.5 166.0v5.0M503.0 168.5h5.0M505.5 166.0v5.0M506.0 168.5h5.0M508.5 166.0v5.0M509.0 168.5h5.0M511.5 166.0v5.0M512.0 168.5h5.0M514.5 166.0v5.0M515.0 168.5h5.0M517.5 166.0v5.0M518.0 168.5h5.0M520.5 166.0v5.0M521.0 168.5h5.0M523.5 166.0v5.0M510.0 176.5h5.0M512.5 174.0v5.0M513.0 176.5h5.0M515.5 174.0v5.0M516.0 176.5h5.0M518.5 174.0v5.0M519.0 176.5h5.0M521.5 174.0v5.0M522.0 176.5h5.0M524.5 174.0v5.0M525.0 176.5h5.0M527.5 174.0v5.0M528.0 176.5h5.0M530.5 174.0v5.0M530.0 176.5h5.0M532.5 174.0v5.0M510.0 176.5h5.0M512.5 174.0v5.0M514.0 176.5h5.0M516.5 174.0v5.0M518.0 176.5h5.0M520.5 174.0v5.0M522.0 176.5h5.0M524.5 174.0v5.0M526.0 176.5h5.0M528.5 174.0v5.0M468.0 156.5h5.0M470.5 154.0v5.0M466.0 153.5h5.0M468.5 151.0v5.0M630.0 200.5h5.0M632.5 198.0v5.0M636.0 198.5h5.0M638.5 196.0v5.0M629.0 198.5h5.0M631.5 196.0v5.0M634.0 197.5h5.0M636.5 195.0v5.0M652.0 206.5h5.0M654.5 204.0v5.0M655.0 206.5h5.0M657.5 204.0v5.0M661.0 206.5h5.0M663.5 204.0v5.0M664.0 206.5h5.0M666.5 204.0v5.0M668.0 206.5h5.0M670.5 204.0v5.0M672.0 206.5h5.0M674.5 204.0v5.0M676.0 205.5h5.0M678.5 203.0v5.0M679.0 204.5h5.0M681.5 202.0v5.0M658.0 206.5h5.0M660.5 204.0v5.0M554.0 192.5h5.0M556.5 190.0v5.0M556.0 197.5h5.0M558.5 195.0v5.0M553.0 202.5h5.0M555.5 200.0v5.0M558.0 205.5h5.0M560.5 203.0v5.0M555.0 209.5h5.0M557.5 207.0v5.0M560.0 200.5h5.0M562.5 198.0v5.0M551.0 195.5h5.0M553.5 193.0v5.0M529.0 183.5h5.0M531.5 181.0v5.0M531.0 183.5h5.0M533.5 181.0v5.0M534.0 183.5h5.0M536.5 181.0v5.0M537.0 183.5h5.0M539.5 181.0v5.0M540.0 183.5h5.0M542.5 181.0v5.0M543.0 183.5h5.0M545.5 181.0v5.0M546.0 183.5h5.0M548.5 181.0v5.0M549.0 183.5h5.0M551.5 181.0v5.0M552.0 183.5h5.0M554.5 181.0v5.0M555.0 183.5h5.0M557.5 181.0v5.0M528.0 187.5h5.0M530.5 185.0v5.0M531.0 187.5h5.0M533.5 185.0v5.0M534.0 187.5h5.0M536.5 185.0v5.0M538.0 187.5h5.0M540.5 185.0v5.0M541.0 187.5h5.0M543.5 185.0v5.0M544.0 187.5h5.0M546.5 185.0v5.0M547.0 187.5h5.0M549.5 185.0v5.0M550.0 187.5h5.0M552.5 185.0v5.0M553.0 187.5h5.0M555.5 185.0v5.0M556.0 187.5h5.0M558.5 185.0v5.0M547.0 197.5h5.0M549.5 195.0v5.0M550.0 197.5h5.0M552.5 195.0v5.0M554.0 194.5h5.0M556.5 192.0v5.0M556.0 197.5h5.0M558.5 195.0v5.0M558.0 196.5h5.0M560.5 194.0v5.0M562.0 194.5h5.0M564.5 192.0v5.0M563.0 198.5h5.0M565.5 196.0v5.0M548.0 205.5h5.0M550.5 203.0v5.0M552.0 206.5h5.0M554.5 204.0v5.0M556.0 202.5h5.0M558.5 200.0v5.0M558.0 205.5h5.0M560.5 203.0v5.0M562.0 207.5h5.0M564.5 205.0v5.0M565.0 203.5h5.0M567.5 201.0v5.0M539.0 197.5h5.0M541.5 195.0v5.0M541.0 197.5h5.0M543.5 195.0v5.0M560.0 210.5h5.0M562.5 208.0v5.0M564.0 211.5h5.0M566.5 209.0v5.0M626.0 204.5h5.0M628.5 202.0v5.0M630.0 205.5h5.0M632.5 203.0v5.0M634.0 204.5h5.0M636.5 202.0v5.0M639.0 205.5h5.0M641.5 203.0v5.0M643.0 205.5h5.0M645.5 203.0v5.0M646.0 206.5h5.0M648.5 204.0v5.0M634.0 208.5h5.0M636.5 206.0v5.0M640.0 209.5h5.0M642.5 207.0v5.0M644.0 210.5h5.0M646.5 208.0v5.0M462.0 152.5h5.0M464.5 150.0v5.0M470.0 157.5h5.0M472.5 155.0v5.0M615.0 183.5h5.0M617.5 181.0v5.0M618.0 185.5h5.0M620.5 183.0v5.0M620.0 187.5h5.0M622.5 185.0v5.0M413.0 181.5h5.0M415.5 179.0v5.0M418.0 181.5h5.0M420.5 179.0v5.0M436.0 181.5h5.0M438.5 179.0v5.0M429.0 183.5h5.0M431.5 181.0v5.0M431.0 184.5h5.0M433.5 182.0v5.0M408.0 188.5h5.0M410.5 186.0v5.0M417.0 188.5h5.0M419.5 186.0v5.0M419.0 187.5h5.0M421.5 185.0v5.0M427.0 188.5h5.0M429.5 186.0v5.0M429.0 189.5h5.0M431.5 187.0v5.0M438.0 188.5h5.0M440.5 186.0v5.0M439.0 188.5h5.0M441.5 186.0v5.0M415.0 192.5h5.0M417.5 190.0v5.0M422.0 194.5h5.0M424.5 192.0v5.0M425.0 193.5h5.0M427.5 191.0v5.0M425.0 193.5h5.0M427.5 191.0v5.0M427.0 195.5h5.0M429.5 193.0v5.0M433.0 192.5h5.0M435.5 190.0v5.0M436.0 195.5h5.0M438.5 193.0v5.0M442.0 197.5h5.0M444.5 195.0v5.0" stroke="#333" stroke-width="1.3" fill="none"/>
<text transform="translate(9.1,109.8) rotate(-90)" text-anchor="middle" style="font-size:10.65px">emission angle</text>
<text transform="translate(376.7,109.8) rotate(-90)" text-anchor="middle" style="font-size:10.65px">emission angle</text>
<path d="M41.1 4.2V8.4" stroke="#555" stroke-width="1.3"/>
<text x="290.7" y="18" text-anchor="end">south</text>
<path d="M311.6 15.2h4.4M313.8 13.0v4.4" stroke="#555" stroke-width="1" fill="none"/>
<text transform="translate(319.1,28.6) scale(0.9,1)" style="font-size:16.5px">a)</text>
<text x="658.1" y="18" text-anchor="end">north</text>
<path d="M678.8 15.2h4.4M681.0 13.0v4.4" stroke="#555" stroke-width="1" fill="none"/>
<text transform="translate(686.4,28.6) scale(0.9,1)" style="font-size:16.5px">b)</text>
</g>
</svg>
</body></html>
